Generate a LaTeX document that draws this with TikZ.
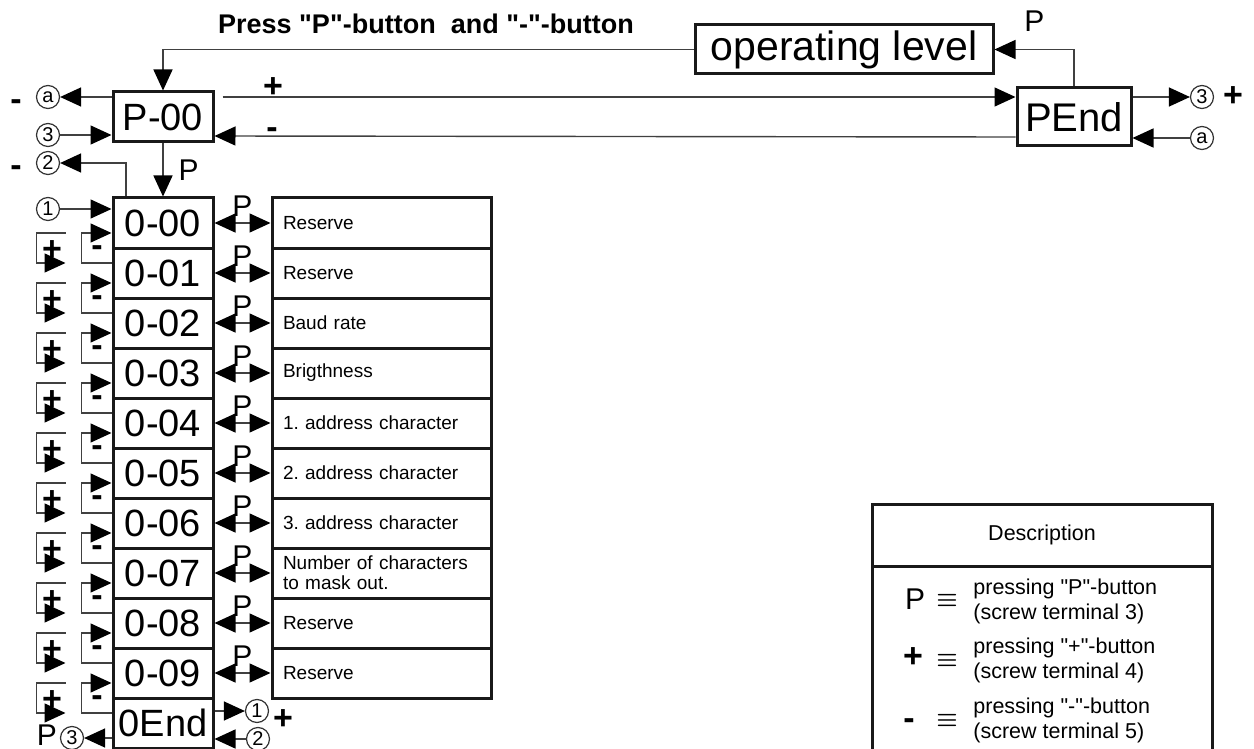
\documentclass[tikz,border=0pt]{standalone}
\usepackage{fontspec}
\setmainfont{Liberation Sans}
\newfontfamily\qfont{Liberation Sans}
\usetikzlibrary{arrows.meta}
\newcommand{\qmark}{{\qfont"}}
\frenchspacing

\begin{document}
\begin{tikzpicture}[x=0.5pt,y=-0.5pt,
  line/.style={draw=black!75,line width=0.7pt},
  arr/.style={line,-{Triangle[length=10.5pt,width=9.5pt,color=black]}},
  darr/.style={line,{Triangle[length=10.5pt,width=9.5pt,color=black]}-{Triangle[length=10.5pt,width=9.5pt,color=black]}},
  box/.style={draw=black!90,line width=1.5pt,minimum width=50pt,minimum height=25pt,font=\fontsize{19}{19}\selectfont},
  dbox/.style={draw=black!90,line width=1.5pt,minimum height=25pt,text width=98.5pt,inner xsep=5.5pt,align=left,font=\fontsize{9.5}{10}\selectfont},
  circ/.style={draw=black!80,line width=0.6pt,circle,minimum size=11.5pt,font=\fontsize{10}{10}\selectfont},
  sym/.style={font=\bfseries\fontsize{17}{17}\selectfont},
  msym/.style={sym,yshift=-4pt},
  plab/.style={font=\fontsize{15}{15}\selectfont},
  eqv/.style={font=\boldmath\fontsize{13}{13}\selectfont},
  legtext/.style={align=left,font=\fontsize{10.75}{12.5}\selectfont}]
\tikzstyle{every node}+=[inner sep=0pt]
\useasboundingbox (0,0) rectangle (1254,749);
\node[box,minimum width=149pt,minimum height=24.5pt,font=\fontsize{20.5}{20.5}\selectfont] (op) at (844,49.5) {operating level};
\node[font=\bfseries\fontsize{13.5}{13.5}\selectfont] (press) at (426,24) {Press \qmark P\qmark-button\ \ and \qmark-\qmark-button};
\node[box] (p00) at (163,117) {P-00};
\node[box,minimum width=57pt,minimum height=29pt,font=\fontsize{20}{20}\selectfont] (pend) at (1074,117) {PEnd};
\node[box] (r0) at (163,223) {0-00};
\node[box] (r1) at (163,273) {0-01};
\node[box] (r2) at (163,323) {0-02};
\node[box] (r3) at (163,373) {0-03};
\node[box] (r4) at (163,423) {0-04};
\node[box] (r5) at (163,473) {0-05};
\node[box] (r6) at (163,523) {0-06};
\node[box] (r7) at (163,573) {0-07};
\node[box] (r8) at (163,623) {0-08};
\node[box] (r9) at (163,673) {0-09};
\node[box] (r10) at (163,723) {0End};
\node[dbox] (d0) at (381.5,223) {Reserve};
\node[dbox] (d1) at (381.5,273) {Reserve};
\node[dbox] (d2) at (381.5,323) {Baud rate};
\node[dbox] (d3) at (381.5,373) {Brigthness};
\node[dbox] (d4) at (381.5,423) {1. address character};
\node[dbox] (d5) at (381.5,473) {2. address character};
\node[dbox] (d6) at (381.5,523) {3. address character};
\node[dbox] (d7) at (381.5,573) {Number of characters\\to mask out.};
\node[dbox] (d8) at (381.5,623) {Reserve};
\node[dbox] (d9) at (381.5,673) {Reserve};
\draw[arr] (op.west) -| (p00.north);
\draw[arr] (pend.north) |- (op.east) node[pos=0.75,above=8.5pt,plab] (lop) {P};
\draw[arr] ([xshift=4pt,yshift=10pt]p00.east) -- ([yshift=10pt]pend.west);
\node[sym] (lp) at (273,88) {+};
\draw[arr] ([yshift=-10pt]pend.west) -- ([yshift=-9.5pt]p00.east);
\node[msym] (lm) at (272,125) {-};
\node[circ] (c3r) at (1202,97) {3};
\node[sym] (lpr) at (1233,97) {+};
\node[circ] (car) at (1202,138) {a};
\draw[arr] ([yshift=10pt]pend.east) -- (c3r.west);
\draw[arr] (car.west) -- ([yshift=-10.5pt]pend.east);
\node[msym] (lma) at (16,97) {-};
\node[circ] (cal) at (48,97) {a};
\node[circ] (c3l) at (48,135) {3};
\node[msym] (lm2) at (16,163) {-};
\node[circ] (c2l) at (48,163) {2};
\node[circ] (c1l) at (48,209) {1};
\draw[arr] ([yshift=10pt]p00.west) -- (cal.east);
\draw[arr] (c3l.east) -- ([yshift=-9pt]p00.west);
\draw[arr] ([xshift=-18.5pt]r0.north) |- (c2l.east);
\draw[arr] (c1l.east) -- ([yshift=7pt]r0.west);
\draw[arr] (p00.south) -- (r0.north) node[midway,right=7.5pt,plab] (lpp) {P};
\draw[darr] (r0.east) -- (d0.west) node[midway,above=3pt,plab] (q0) {P};
\draw[darr] (r1.east) -- (d1.west) node[midway,above=3pt,plab] (q1) {P};
\draw[darr] (r2.east) -- (d2.west) node[midway,above=3pt,plab] (q2) {P};
\draw[darr] (r3.east) -- (d3.west) node[midway,above=3pt,plab] (q3) {P};
\draw[darr] (r4.east) -- (d4.west) node[midway,above=3pt,plab] (q4) {P};
\draw[darr] (r5.east) -- (d5.west) node[midway,above=3pt,plab] (q5) {P};
\draw[darr] (r6.east) -- (d6.west) node[midway,above=3pt,plab] (q6) {P};
\draw[darr] (r7.east) -- (d7.west) node[midway,above=3pt,plab] (q7) {P};
\draw[darr] (r8.east) -- (d8.west) node[midway,above=3pt,plab] (q8) {P};
\draw[darr] (r9.east) -- (d9.west) node[midway,above=3pt,plab] (q9) {P};
\draw[arr] ([yshift=5pt]r1.west) -- ++(-30,0) |- ([yshift=-5pt]r0.west);
\draw[arr] ([yshift=5pt]r2.west) -- ++(-30,0) |- ([yshift=-5pt]r1.west);
\draw[arr] ([yshift=5pt]r3.west) -- ++(-30,0) |- ([yshift=-5pt]r2.west);
\draw[arr] ([yshift=5pt]r4.west) -- ++(-30,0) |- ([yshift=-5pt]r3.west);
\draw[arr] ([yshift=5pt]r5.west) -- ++(-30,0) |- ([yshift=-5pt]r4.west);
\draw[arr] ([yshift=5pt]r6.west) -- ++(-30,0) |- ([yshift=-5pt]r5.west);
\draw[arr] ([yshift=5pt]r7.west) -- ++(-30,0) |- ([yshift=-5pt]r6.west);
\draw[arr] ([yshift=5pt]r8.west) -- ++(-30,0) |- ([yshift=-5pt]r7.west);
\draw[arr] ([yshift=5pt]r9.west) -- ++(-30,0) |- ([yshift=-5pt]r8.west);
\draw[arr] ([yshift=5pt]r10.west) -- ++(-30,0) |- ([yshift=-5pt]r9.west);
\draw[arr] ([xshift=-23pt,yshift=-5pt]r0.west) -- ++(-29,0) |- ([xshift=-23pt,yshift=5pt]r1.west);
\draw[arr] ([xshift=-23pt,yshift=-5pt]r1.west) -- ++(-29,0) |- ([xshift=-23pt,yshift=5pt]r2.west);
\draw[arr] ([xshift=-23pt,yshift=-5pt]r2.west) -- ++(-29,0) |- ([xshift=-23pt,yshift=5pt]r3.west);
\draw[arr] ([xshift=-23pt,yshift=-5pt]r3.west) -- ++(-29,0) |- ([xshift=-23pt,yshift=5pt]r4.west);
\draw[arr] ([xshift=-23pt,yshift=-5pt]r4.west) -- ++(-29,0) |- ([xshift=-23pt,yshift=5pt]r5.west);
\draw[arr] ([xshift=-23pt,yshift=-5pt]r5.west) -- ++(-29,0) |- ([xshift=-23pt,yshift=5pt]r6.west);
\draw[arr] ([xshift=-23pt,yshift=-5pt]r6.west) -- ++(-29,0) |- ([xshift=-23pt,yshift=5pt]r7.west);
\draw[arr] ([xshift=-23pt,yshift=-5pt]r7.west) -- ++(-29,0) |- ([xshift=-23pt,yshift=5pt]r8.west);
\draw[arr] ([xshift=-23pt,yshift=-5pt]r8.west) -- ++(-29,0) |- ([xshift=-23pt,yshift=5pt]r9.west);
\draw[arr] ([xshift=-23pt,yshift=-5pt]r9.west) -- ++(-29,0) |- ([xshift=-23pt,yshift=5pt]r10.west);
\node[msym] (m0) at (97,243) {-};
\node[msym] (m1) at (97,293) {-};
\node[msym] (m2) at (97,343) {-};
\node[msym] (m3) at (97,393) {-};
\node[msym] (m4) at (97,443) {-};
\node[msym] (m5) at (97,493) {-};
\node[msym] (m6) at (97,543) {-};
\node[msym] (m7) at (97,593) {-};
\node[msym] (m8) at (97,643) {-};
\node[msym] (m9) at (97,693) {-};
\node[sym] (s0) at (52,251) {+};
\node[sym] (s1) at (52,301) {+};
\node[sym] (s2) at (52,351) {+};
\node[sym] (s3) at (52,401) {+};
\node[sym] (s4) at (52,451) {+};
\node[sym] (s5) at (52,501) {+};
\node[sym] (s6) at (52,551) {+};
\node[sym] (s7) at (52,601) {+};
\node[sym] (s8) at (52,651) {+};
\node[sym] (s9) at (52,701) {+};
\node[circ] (c3b) at (72,738) {3};
\node[plab] (lpb) at (47,735) {P};
\draw[arr] ([yshift=-7.5pt]r10.west) -- (c3b.east);
\node[circ] (c1r) at (257,711) {1};
\node[sym] (lpe) at (283,720) {+};
\node[circ] (c2r) at (258,739) {2};
\draw[arr] ([yshift=6pt]r10.east) -- (c1r.west);
\draw[arr] (c2r.west) -- ([yshift=-8pt]r10.east);
\node[draw=black!90,line width=1.5pt,outer sep=0pt,minimum width=170pt,minimum height=31pt,font=\fontsize{10.75}{10.75}\selectfont] (leghead) at (1042,535) {Description};
\node[draw=black!90,line width=1.5pt,outer sep=0pt,minimum width=170pt,minimum height=117pt,anchor=north] (legbody) at (leghead.south) {};
\node[plab] (kp) at (915,599) {P};
\node[eqv] (ep) at (947,600) {$\equiv$};
\node[legtext,anchor=west] (tp) at (973,601) {pressing \qmark P\qmark-button\\(screw terminal 3)};
\node[sym] (kplus) at (913,658) {+};
\node[eqv] (eplus) at (947,660) {$\equiv$};
\node[legtext,anchor=west] (tplus) at (973,660) {pressing \qmark+\qmark-button\\(screw terminal 4)};
\node[msym] (kminus) at (909,716) {-};
\node[eqv] (eminus) at (947,720) {$\equiv$};
\node[legtext,anchor=west] (tminus) at (973,720) {pressing \qmark-\qmark-button\\(screw terminal 5)};
\end{tikzpicture}
\end{document}
